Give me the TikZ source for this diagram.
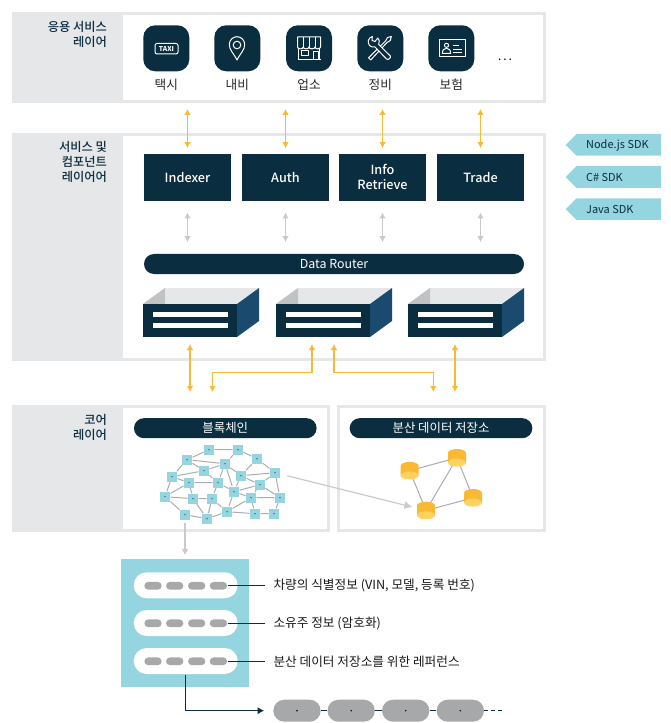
\documentclass[tikz,border=0pt]{standalone}
\usepackage{fontspec}
\setmainfont{Noto Sans CJK KR}
\newfontfamily\mediumkr{Noto Sans CJK KR Medium}
\usetikzlibrary{arrows.meta}

\definecolor{navydark}{HTML}{0A2D3F}
\definecolor{navyside}{HTML}{1A4B6E}
\definecolor{panelgray}{HTML}{E6E7E9}
\definecolor{shadegray}{HTML}{C1C2C3}
\definecolor{pillgray}{HTML}{A7A8AA}
\definecolor{linegray}{HTML}{ABACAE}
\definecolor{arrowgray}{HTML}{C9CACB}
\definecolor{tealtag}{HTML}{94D5DF}
\definecolor{goldline}{HTML}{F9B935}
\definecolor{goldtop}{HTML}{FFD15F}

\tikzset{every picture/.style={line width=0.75pt}}
\tikzset{
  layerframe/.style={draw=panelgray,line width=2pt},
  layerlabel/.style={anchor=north east,inner sep=0pt,align=right,text=navydark,font=\fontsize{9.2}{11.25}\selectfont\mediumkr},
  iconbox/.style={fill=navydark,rounded corners=9pt,minimum width=34.5pt,minimum height=34.5pt,inner sep=0pt},
  iconline/.style={draw=white,line width=0.75pt,line join=round},
  iconname/.style={inner sep=0pt,text=black!85,font=\fontsize{9.5}{11}\selectfont},
  modulebox/.style={fill=navydark,minimum width=65.25pt,minimum height=35pt,inner sep=0pt,align=center,text=white,font=\fontsize{9.5}{11.25}\selectfont\mediumkr},
  pillhead/.style={fill=navydark,rounded corners=7.5pt,minimum height=15pt,inner sep=0pt,text=white,font=\fontsize{9.3}{10}\selectfont},
  storefront/.style={fill=navydark,minimum width=70.5pt,minimum height=24.5pt,inner sep=0pt},
  goldarrow/.style={draw=goldline,line width=0.9pt,{Latex[length=4.5pt,width=5pt]}-{Latex[length=4.5pt,width=5pt]}},
  grayarrow/.style={draw=arrowgray,line width=0.9pt,{Latex[length=4.5pt,width=5pt]}-{Latex[length=4.5pt,width=5pt]}},
  sdktag/.style={fill=tealtag},
  sdkname/.style={anchor=west,inner sep=0pt,text=navydark,font=\fontsize{8.2}{10}\selectfont},
  netnode/.style={fill=tealtag,minimum size=7.5pt,inner sep=0pt,path picture={\fill[navydark] (path picture bounding box.center) circle (0.5pt);}},
  netline/.style={draw=linegray,line width=0.75pt},
  recordpill/.style={fill=white,rounded corners=9.75pt,minimum width=78pt,minimum height=19.5pt,inner sep=0pt},
  fieldpill/.style={fill=pillgray,rounded corners=2.9pt,minimum width=13pt,minimum height=5.8pt,inner sep=0pt},
  recordlabel/.style={anchor=west,inner sep=0pt,text=black!90,font=\fontsize{9.5}{11}\selectfont},
  darkline/.style={draw=navydark,line width=0.8pt},
  chainpill/.style={fill=pillgray,rounded corners=8.2pt,minimum width=35.5pt,minimum height=16.5pt,inner sep=0pt,path picture={\fill[black] (path picture bounding box.center) circle (0.6pt);}},
  dbcyl/.pic={
    \fill[goldline] (-9,-4.8) -- (-9,4.8) arc[start angle=180,end angle=0,x radius=9,y radius=4] -- (9,-4.8) -- cycle;
    \fill[goldtop] (0,-4.8) ellipse [x radius=9,y radius=4];
  }
}

\begin{document}
\begin{tikzpicture}[x=0.75pt,y=0.75pt,yscale=-1,xscale=1]
\useasboundingbox (0,0) rectangle (670,723);

%Shape: Layer Panels
\fill [panelgray] (12,12) rectangle (123,103);
\draw [layerframe] (13.3,13.3) rectangle (544.6,101.4);
\fill [panelgray] (12,133) rectangle (123,361);
\draw [layerframe] (13.3,134.3) rectangle (544.6,359.6);
\fill [panelgray] (12,405) rectangle (123,532);
\draw [layerframe] (13.3,406.3) rectangle (328.7,530.6);
\draw [layerframe] (338.3,406.3) rectangle (544.6,530.6);

% Text Node
\draw (107.5,21) node [layerlabel] (appLabel) {응용 서비스\\레이어};
\draw (107.5,141) node [layerlabel] (serviceLabel) {서비스 및\\컴포넌트\\레이어어};
\draw (107.5,414) node [layerlabel] (coreLabel) {코어\\레이어};

%Shape: Application Icons
\draw (166.3,48.3) node [iconbox] (taxiIcon) {};
\draw (237.3,48.3) node [iconbox] (naviIcon) {};
\draw (309,48.3) node [iconbox] (shopIcon) {};
\draw (380.3,48.3) node [iconbox] (repairIcon) {};
\draw (451.3,48.3) node [iconbox] (insureIcon) {};
% Taxi
\draw [iconline,rounded corners=1.5pt] (155,43.5) rectangle (178,54);
\draw (166.5,48.8) node [inner sep=0pt,text=white,font=\fontsize{5}{5}\selectfont\bfseries] (taxiText) {TAXI};
% Navigation
\draw [iconline] (237,60) .. controls (233.5,53) and (229.3,50) .. (229.3,44.5) .. controls (229.3,40) and (233,36.7) .. (237,36.7) .. controls (241,36.7) and (244.7,40) .. (244.7,44.5) .. controls (244.7,50) and (240.5,53) .. (237,60) -- cycle;
\draw [iconline] (237,45) circle (3.8);
% Shop
\draw [iconline] (297.5,37) -- (320.5,37) -- (320.5,47) .. controls (320.5,49.5) and (315,49.5) .. (315,47) .. controls (315,49.5) and (309,49.5) .. (309,47) .. controls (309,49.5) and (303.2,49.5) .. (303.2,47) .. controls (303.2,49.5) and (297.5,49.5) .. (297.5,47) -- cycle;
\draw [iconline] (303.2,37) -- (303.2,47)(309,37) -- (309,47)(315,37) -- (315,47);
\draw [iconline] (298.7,48.5) -- (298.7,60)(319.3,48.5) -- (319.3,60)(297.5,60) -- (320.5,60);
\draw [iconline] (301.7,50.5) rectangle (308,55.5);
\draw [iconline] (313,51.5) rectangle (318,60);
% Repair
\draw [iconline] (370.7,60) -- (368.5,57.8) -- (385.5,41) -- (387.5,37.5) -- (391.3,36.5) -- (390.3,40.5) -- (387,42.5) -- (370.7,60) -- cycle;
\draw [iconline,fill=navydark] (372.3,36.5) .. controls (368.3,37.5) and (367,42.5) .. (369.5,45.5) .. controls (371,47) and (373,47.5) .. (375,47) -- (386.5,59) .. controls (388,60.5) and (391.5,57.5) .. (390.3,56) -- (378.7,44.5) .. controls (379.7,42) and (379.5,39.5) .. (377.8,38) -- (375,41.5) -- (372,40.5) -- cycle;
% Insurance
\draw [iconline] (439,39.5) rectangle (465,57);
\draw [iconline] (446.5,45.3) circle (2.1);
\draw [iconline] (442.3,53.3) .. controls (442.5,50) and (444,48.3) .. (446.5,48.3) .. controls (449,48.3) and (450.5,50) .. (450.7,53.3) -- cycle;
\draw [iconline,line width=0.6pt] (453,45.5) -- (458.5,45.5)(453,49) -- (462,49)(453,52.5) -- (462,52.5);

% Text Node
\draw (166.3,85) node [iconname] (taxiName) {택시};
\draw (237.3,85) node [iconname] (naviName) {내비};
\draw (309,85) node [iconname] (shopName) {업소};
\draw (380.3,85) node [iconname] (repairName) {정비};
\draw (451.3,85) node [iconname] (insureName) {보험};
\draw (505,60) node [inner sep=0pt,font=\fontsize{9}{11}\selectfont] (moreName) {.\hspace{1.5pt}.\hspace{1.5pt}.};

%Shape: Service Modules
\draw (187.5,177.3) node [modulebox] (indexer) {Indexer};
\draw (285.5,177.3) node [modulebox] (auth) {Auth};
\draw (382.5,177.3) node [modulebox] (infoRetrieve) {Info\\Retrieve};
\draw (480.5,177.3) node [modulebox] (trade) {Trade};
\draw (334,264) node [pillhead,minimum width=285pt] (dataRouter) {Data Router};

%Straight Lines
\coordinate (appIndexer) at (187.5,109);
\coordinate (appAuth) at (285.5,109);
\coordinate (appInfo) at (382.5,109);
\coordinate (appTrade) at (480.5,109);
\draw [goldarrow,shorten >=4pt] (appIndexer) -- (indexer.north);
\draw [goldarrow,shorten >=4pt] (appAuth) -- (auth.north);
\draw [goldarrow,shorten >=4pt] (appInfo) -- (infoRetrieve.north);
\draw [goldarrow,shorten >=4pt] (appTrade) -- (trade.north);
\draw [grayarrow,shorten <=8.5pt,shorten >=8.5pt] (indexer.south) -- (indexer.south |- dataRouter.north);
\draw [grayarrow,shorten <=8.5pt,shorten >=8.5pt] (auth.south) -- (auth.south |- dataRouter.north);
\draw [grayarrow,shorten <=8.5pt,shorten >=8.5pt] (infoRetrieve.south) -- (infoRetrieve.south |- dataRouter.north);
\draw [grayarrow,shorten <=8.5pt,shorten >=8.5pt] (trade.south) -- (trade.south |- dataRouter.north);

%Shape: Storage Boxes
\fill [panelgray] (165,288) -- (259,288) -- (237,304) -- (143,304) -- cycle;
\fill [shadegray] (143,304) -- (165,288) -- (165,304) -- cycle;
\fill [navyside] (237,304) -- (259,288) -- (259,321) -- (237,337) -- cycle;
\draw (190,320.5) node [storefront] (storeOne) {};
\fill [white] (153,312) rectangle (228,317);
\fill [white] (153,323) rectangle (228,328);
\fill [panelgray] (298,288) -- (392,288) -- (370,304) -- (276,304) -- cycle;
\fill [shadegray] (276,304) -- (298,288) -- (298,304) -- cycle;
\fill [navyside] (370,304) -- (392,288) -- (392,321) -- (370,337) -- cycle;
\draw (323,320.5) node [storefront] (storeTwo) {};
\fill [white] (286,312) rectangle (361,317);
\fill [white] (286,323) rectangle (361,328);
\fill [panelgray] (430,288) -- (524,288) -- (502,304) -- (408,304) -- cycle;
\fill [shadegray] (408,304) -- (430,288) -- (430,304) -- cycle;
\fill [navyside] (502,304) -- (524,288) -- (524,321) -- (502,337) -- cycle;
\draw (455,320.5) node [storefront] (storeThree) {};
\fill [white] (418,312) rectangle (493,317);
\fill [white] (418,323) rectangle (493,328);

%Straight Lines
\coordinate (storeOneUp) at (190,344);
\coordinate (storeOneDown) at (190,392);
\coordinate (storeTwoLeft) at (312,344);
\coordinate (chainDown) at (212.5,392);
\coordinate (storeTwoRight) at (334,344);
\coordinate (ledgerDown) at (433.3,392);
\coordinate (storeThreeUp) at (455,344);
\coordinate (storeThreeDown) at (455,392);
\draw [goldarrow] (storeOneUp) -- (storeOneDown);
\draw [goldarrow] (storeTwoLeft) |- (212.5,372.7) -- (chainDown);
\draw [goldarrow] (storeTwoRight) |- (433.3,372.7) -- (ledgerDown);
\draw [goldarrow] (storeThreeUp) -- (storeThreeDown);

%Shape: SDK Tags
\fill [sdktag] (565.7,145) -- (576.7,134) -- (661,134) -- (661,155.7) -- (576.7,155.7) -- cycle;
\fill [sdktag] (565.7,177) -- (576.7,166) -- (661,166) -- (661,188) -- (576.7,188) -- cycle;
\fill [sdktag] (565.7,209) -- (576.7,198.3) -- (661,198.3) -- (661,220) -- (576.7,220) -- cycle;
\draw (585.7,145) node [sdkname] (sdkNode) {Node.js SDK};
\draw (585.7,177) node [sdkname] (sdkSharp) {C\# SDK};
\draw (585.7,209) node [sdkname] (sdkJava) {Java SDK};

%Shape: Core Headers
\draw (225.3,428.2) node [pillhead,minimum width=137pt] (chainHead) {블록체인};
\draw (441,428.2) node [pillhead,minimum width=137pt] (ledgerHead) {분산 데이터 저장소};

%Shape: Blockchain Network
\draw (209,449.7) node [netnode] (netA) {};
\draw (238,449.7) node [netnode] (netB) {};
\draw (187,459.7) node [netnode] (netC) {};
\draw (257,458.7) node [netnode] (netD) {};
\draw (225,463.7) node [netnode] (netE) {};
\draw (204,470.7) node [netnode] (netF) {};
\draw (275,472.7) node [netnode] (netG) {};
\draw (172,476.7) node [netnode] (netH) {};
\draw (241,475.7) node [netnode] (netI) {};
\draw (189,482.7) node [netnode] (netJ) {};
\draw (218,482.7) node [netnode] (netK) {};
\draw (260,484.7) node [netnode] (netL) {};
\draw (234,491.7) node [netnode] (netM) {};
\draw (165,496.7) node [netnode] (netN) {};
\draw (193,498.7) node [netnode] (netO) {};
\draw (212,498.7) node [netnode] (netP) {};
\draw (251,497.7) node [netnode] (netQ) {};
\draw (280,497.7) node [netnode] (netR) {};
\draw (227,511.7) node [netnode] (netS) {};
\draw (185,514.7) node [netnode] (netT) {};
\draw (207,518.7) node [netnode] (netU) {};
\draw (255,513.7) node [netnode] (netV) {};
\draw (274,513.7) node [netnode] (netW) {};

%Straight Lines
\draw [netline] (netA) -- (netB) (netA) -- (netC) (netB) -- (netD) (netB) -- (netE) (netC) -- (netE) (netC) -- (netF) (netC) -- (netH);
\draw [netline] (netH) -- (netF) (netF) -- (netE) (netF) -- (netK) (netD) -- (netI) (netD) -- (netG) (netG) -- (netI) (netG) -- (netL);
\draw [netline] (netG) -- (netR) (netE) -- (netI) (netE) -- (netK) (netE) -- (netM) (netI) -- (netL) (netI) -- (netM) (netH) -- (netJ);
\draw [netline] (netH) -- (netN) (netJ) -- (netK) (netJ) -- (netN) (netJ) -- (netO) (netK) -- (netP) (netK) -- (netM) (netM) -- (netL);
\draw [netline] (netM) -- (netQ) (netM) -- (netS) (netN) -- (netO) (netN) -- (netT) (netO) -- (netP) (netO) -- (netU) (netP) -- (netU);
\draw [netline] (netP) -- (netS) (netS) -- (netQ) (netS) -- (netV) (netS) -- (netU) (netQ) -- (netR) (netQ) -- (netV) (netL) -- (netR);
\draw [netline] (netL) -- (netQ) (netV) -- (netW) (netW) -- (netR) (netT) -- (netU);

%Shape: Ledger Nodes
\coordinate (dbA) at (409.7,470.7);
\coordinate (dbB) at (457,457.8);
\coordinate (dbC) at (473,497.8);
\coordinate (dbD) at (426,510.5);
\draw [netline] (dbA) -- (dbB) (dbB) -- (dbD) (dbB) -- (dbC) (dbC) -- (dbD) (dbA) -- (dbD);
\draw [draw=arrowgray,line width=0.9pt,-{Latex[length=6pt,width=6pt]},shorten >=10.5pt,shorten <=5.2pt] (netG) -- (dbD);
\pic at (dbA) {dbcyl};
\pic at (dbB) {dbcyl};
\pic at (dbC) {dbcyl};
\pic at (dbD) {dbcyl};

%Shape: Record Panel
\draw (185,623) node [fill=tealtag,minimum size=96pt,inner sep=0pt] (recordPanel) {};
\draw [draw=arrowgray,line width=0.9pt,-{Latex[length=4.5pt,width=5pt]},shorten <=2pt,shorten >=2.5pt] (netT.south) -- (netT.south |- recordPanel.north);
\draw (185.7,585.3) node [recordpill] (rowA) {};
\draw (185.7,623) node [recordpill] (rowB) {};
\draw (185.7,661) node [recordpill] (rowC) {};
\draw (153,585.8) node [fieldpill] (rowAa) {};
\draw (174.7,585.8) node [fieldpill] (rowAb) {};
\draw (196.7,585.8) node [fieldpill] (rowAc) {};
\draw (218.4,585.8) node [fieldpill] (rowAd) {};
\draw (153,623.3) node [fieldpill] (rowBa) {};
\draw (174.7,623.3) node [fieldpill] (rowBb) {};
\draw (196.7,623.3) node [fieldpill] (rowBc) {};
\draw (218.4,623.3) node [fieldpill] (rowBd) {};
\draw (153,661.3) node [fieldpill] (rowCa) {};
\draw (174.7,661.3) node [fieldpill] (rowCb) {};
\draw (196.7,661.3) node [fieldpill] (rowCc) {};
\draw (218.4,661.3) node [fieldpill] (rowCd) {};

% Text Node
\draw (273,585.8) node [recordlabel] (labelA) {차량의 식별정보 (VIN, 모델, 등록 번호)};
\draw (273,623.3) node [recordlabel] (labelB) {소유주 정보 (암호화)};
\draw (273,661.3) node [recordlabel] (labelC) {분산 데이터 저장소를 위한 레퍼런스};

%Straight Lines
\draw [darkline,shorten >=6pt] (rowAd.east) -- (rowAd.east -| labelA.west);
\draw [darkline,shorten >=6pt] (rowBd.east) -- (rowBd.east -| labelA.west);
\draw [darkline,shorten >=6pt] (rowCd.east) -- (rowCd.east -| labelA.west);

%Shape: Chain Pills
\draw (297,710.7) node [chainpill] (chainA) {};
\draw (351.2,710.7) node [chainpill] (chainB) {};
\draw (405.7,710.7) node [chainpill] (chainC) {};
\draw (460.3,710.7) node [chainpill] (chainD) {};
\coordinate (chainEnd) at (502,710.7);
\draw [darkline,-{Latex[length=5pt,width=5.5pt]},shorten >=6.5pt] (rowC.south) |- (chainA.west);
\draw [darkline] (chainA) -- (chainB);
\draw [darkline] (chainB) -- (chainC);
\draw [darkline] (chainC) -- (chainD);
\draw [darkline,dash pattern=on 3pt off 2.2pt] (chainD.east) -- (chainEnd);

\end{tikzpicture}
\end{document}
